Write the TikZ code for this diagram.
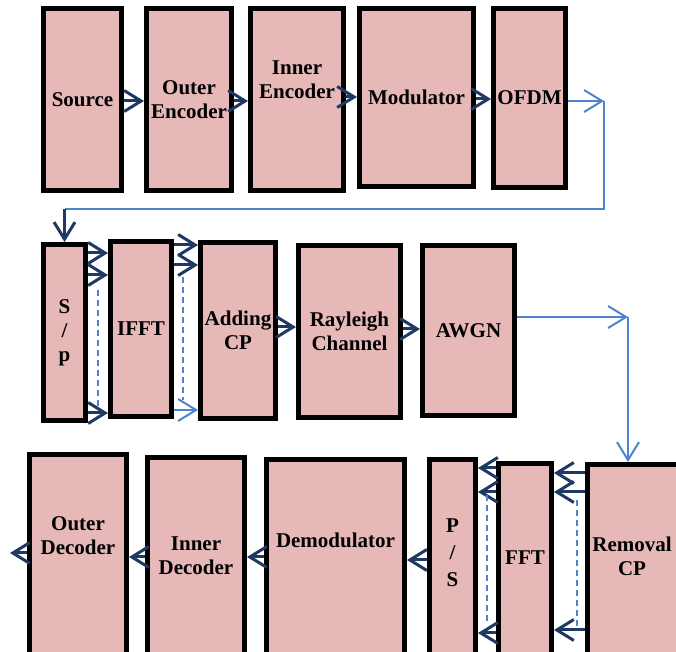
\documentclass[tikz,border=0pt]{standalone}
\usepackage{fontspec}
\setmainfont{Liberation Serif}
\usetikzlibrary{arrows.meta}

\definecolor{blockpink}{RGB}{230,184,183}
\definecolor{arrownavy}{RGB}{31,56,100}
\definecolor{linkblue}{RGB}{76,132,206}

\begin{document}
\begin{tikzpicture}
    [x=0.5pt,y=-0.5pt,
    block/.style={draw=black,fill=blockpink,line width=2.5pt,inner sep=0pt,
        font=\fontsize{10.5}{12}\selectfont\bfseries,align=center},
    txt/.style={font=\fontsize{10.5}{12}\selectfont\bfseries,align=center,inner sep=0pt},
    arr/.style={-{Straight Barb[length=8.5pt,width=10.5pt]},arrownavy,line width=1.5pt},
    bluelink/.style={linkblue,line width=1pt},
    linkarr/.style={bluelink,-{Straight Barb[length=9pt,width=11pt]}},
    guide/.style={linkblue,line width=0.8pt,dash pattern=on 3pt off 2pt}]

\useasboundingbox (0,0) rectangle (676,652);
\clip (0,0) rectangle (676,652);

%first row: coding and modulation
\node[block,minimum width=39pt,minimum height=91pt] (src) at (82.5,99.5) {Source};
\node[block,minimum width=42.5pt,minimum height=91pt] (oenc) at (189,99.5) {Outer\\Encoder};
\node[block,minimum width=46.5pt,minimum height=91pt] (ienc) at (297,99.5) {};
\node[txt] (ienc-l) at (297,80) {Inner\\Encoder};
\node[block,minimum width=57pt,minimum height=89pt] (mod) at (416.5,97.5) {Modulator};
\node[block,minimum width=36pt,minimum height=89.5pt] (ofdm) at (529.5,98) {OFDM};

%second row: transmitter and channel
\node[block,minimum width=21pt,minimum height=88pt] (sp) at (64.5,332.5) {S\\/\\p};
\node[block,minimum width=30.5pt,minimum height=87.5pt] (ifft) at (141,329) {IFFT};
\node[block,minimum width=37.5pt,minimum height=88pt] (addcp) at (238,330.5) {Adding\\CP};
\node[block,minimum width=51pt,minimum height=86pt] (ray) at (349.5,331.5) {Rayleigh\\Channel};
\node[block,minimum width=46pt,minimum height=85pt] (awgn) at (468.5,330.5) {AWGN};

%third row: receiver, runs off the bottom edge
\node[block,anchor=north,minimum width=48.5pt,minimum height=110pt] (odec) at (78,452) {};
\node[txt] (odec-l) at (78,536) {Outer\\Decoder};
\node[block,anchor=north,minimum width=48.5pt,minimum height=110pt] (idec) at (196,455) {};
\node[txt] (idec-l) at (196,556) {Inner\\Decoder};
\node[block,anchor=north,minimum width=69pt,minimum height=110pt] (demod) at (335.5,457) {};
\node[txt] (demod-l) at (335.5,540) {Demodulator};
\node[block,anchor=north,minimum width=23pt,minimum height=110pt] (ps) at (452.5,457) {};
\node[txt] (ps-l) at (452.5,553) {P\\[1.5pt]/\\[1.5pt]S};
\node[block,anchor=north,minimum width=26.5pt,minimum height=110pt] (fft) at (525,461) {};
\node[txt] (fft-l) at (525,558) {FFT};
\node[block,anchor=north,minimum width=55pt,minimum height=110pt] (rcp) at (642.5,462) {};
\node[txt] (rcp-l) at (632,556) {Removal\\CP};

%first row arrows
\draw[arr] (src.east |- 0,101) -- (oenc.west |- 0,101);
\draw[arr] (oenc.east |- 0,101) -- (ienc.west |- 0,101);
\draw[arr] (ienc.east |- 0,97) -- (mod.west |- 0,97);
\draw[arr] (mod.east |- 0,99) -- (ofdm.west |- 0,99);

%OFDM output back round to S/p
\coordinate (bend-a) at (604,101);
\coordinate (bend-b) at (604,209);
\draw[linkarr] (ofdm.east |- bend-a) -- (bend-a);
\draw[bluelink] (bend-a) -- (bend-b) -- (bend-b -| sp.north);
\draw[arr] (bend-b -| sp.north) -- (sp.north);

%parallel streams into IFFT and Adding CP
\draw[arr] (sp.east |- 0,253) -- (ifft.west |- 0,253);
\draw[arr] (sp.east |- 0,275) -- (ifft.west |- 0,275);
\draw[arr] (sp.east |- 0,413) -- (ifft.west |- 0,413);
\draw[guide] (98,290) -- (98,407);
\draw[arr] (ifft.east |- 0,245) -- (addcp.west |- 0,245);
\draw[arr] (ifft.east |- 0,265) -- (addcp.west |- 0,265);
\draw[linkarr] (ifft.east |- 0,410) -- (addcp.west |- 0,410);
\draw[guide] (183,277) -- (183,400);

\draw[arr] (addcp.east |- 0,327) -- (ray.west |- 0,327);
\draw[arr] (ray.east |- 0,329) -- (awgn.west |- 0,329);

%AWGN output down to the receiver
\coordinate (bend-c) at (628,317);
\draw[linkarr] (awgn.east |- bend-c) -- (bend-c);
\draw[linkarr] (bend-c) -- (bend-c |- rcp.north);

%receiver arrows, right to left
\draw[arr] (rcp.west |- 0,473) -- (fft.east |- 0,473);
\draw[arr] (rcp.west |- 0,492) -- (fft.east |- 0,492);
\draw[arr] (rcp.west |- 0,630) -- (fft.east |- 0,630);
\draw[guide] (577,500) -- (577,630);
\draw[arr] (fft.west |- 0,468) -- (ps.east |- 0,468);
\draw[arr] (fft.west |- 0,492) -- (ps.east |- 0,492);
\draw[arr] (fft.west |- 0,633) -- (ps.east |- 0,633);
\draw[guide] (487,495) -- (487,625);
\draw[arr] (ps.west |- 0,560) -- (demod.east |- 0,560);
\draw[arr] (demod.west |- 0,557) -- (idec.east |- 0,557);
\draw[arr] (idec.west |- 0,557) -- (odec.east |- 0,557);
\coordinate (sink) at (10,553);
\draw[arr] (odec.west |- sink) -- (sink);

\end{tikzpicture}
\end{document}
